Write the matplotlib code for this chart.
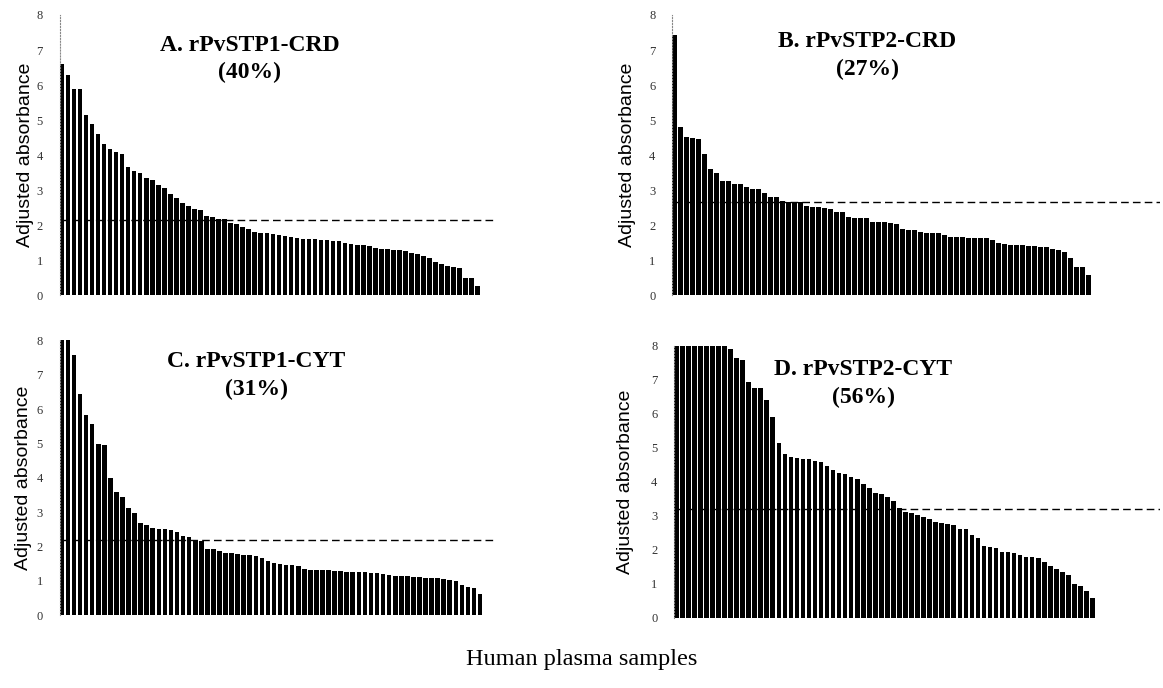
import matplotlib.pyplot as plt
import numpy as np

# adjusted absorbance per plasma sample, sorted high to low
stp1_crd = [6.6, 6.28, 5.9, 5.88, 5.14, 4.89, 4.59, 4.31, 4.17, 4.08,
            4.03, 3.67, 3.54, 3.48, 3.35, 3.29, 3.14, 3.07, 2.9, 2.76,
            2.62, 2.54, 2.45, 2.43, 2.26, 2.24, 2.18, 2.16, 2.07, 2.03,
            1.95, 1.88, 1.81, 1.78, 1.76, 1.74, 1.72, 1.69, 1.65, 1.62,
            1.61, 1.59, 1.59, 1.57, 1.57, 1.55, 1.55, 1.48, 1.46, 1.43,
            1.42, 1.4, 1.33, 1.32, 1.31, 1.3, 1.29, 1.27, 1.19, 1.16,
            1.11, 1.05, 0.95, 0.88, 0.83, 0.81, 0.78, 0.5, 0.5, 0.26]
stp2_crd = [7.43, 4.79, 4.52, 4.49, 4.45, 4.03, 3.59, 3.48, 3.26, 3.25,
            3.18, 3.16, 3.08, 3.04, 3.03, 2.92, 2.81, 2.79, 2.68, 2.67,
            2.66, 2.65, 2.53, 2.52, 2.52, 2.5, 2.47, 2.38, 2.37, 2.22,
            2.2, 2.2, 2.2, 2.1, 2.1, 2.08, 2.07, 2.04, 1.88, 1.87,
            1.87, 1.79, 1.78, 1.77, 1.77, 1.72, 1.66, 1.66, 1.65, 1.63,
            1.62, 1.62, 1.62, 1.58, 1.5, 1.47, 1.44, 1.43, 1.42, 1.39,
            1.39, 1.38, 1.37, 1.32, 1.3, 1.23, 1.07, 0.8, 0.8, 0.56]
stp1_cyt = [8.0, 8.0, 7.57, 6.43, 5.84, 5.56, 4.98, 4.96, 3.98, 3.59,
            3.45, 3.11, 2.98, 2.67, 2.62, 2.55, 2.52, 2.5, 2.48, 2.41,
            2.3, 2.28, 2.17, 2.16, 1.91, 1.91, 1.86, 1.82, 1.8, 1.77,
            1.75, 1.74, 1.73, 1.65, 1.58, 1.52, 1.48, 1.46, 1.46, 1.43,
            1.34, 1.31, 1.31, 1.31, 1.3, 1.29, 1.28, 1.26, 1.25, 1.24,
            1.24, 1.23, 1.21, 1.19, 1.17, 1.15, 1.14, 1.14, 1.12, 1.1,
            1.09, 1.07, 1.07, 1.06, 1.02, 0.98, 0.87, 0.83, 0.78, 0.61]
stp2_cyt = [8.0, 8.0, 8.0, 8.0, 8.0, 8.0, 8.0, 8.0, 8.0, 7.9,
            7.63, 7.59, 6.93, 6.77, 6.77, 6.41, 5.92, 5.13, 4.81, 4.72,
            4.69, 4.67, 4.66, 4.61, 4.59, 4.47, 4.35, 4.25, 4.22, 4.15,
            4.08, 3.95, 3.83, 3.66, 3.63, 3.56, 3.43, 3.22, 3.12, 3.07,
            3.02, 2.97, 2.9, 2.83, 2.8, 2.77, 2.74, 2.62, 2.6, 2.43,
            2.34, 2.12, 2.09, 2.04, 1.94, 1.92, 1.89, 1.86, 1.8, 1.78,
            1.75, 1.63, 1.52, 1.42, 1.35, 1.26, 0.98, 0.94, 0.79, 0.57]

titles = ["A. rPvSTP1-CRD", "B. rPvSTP2-CRD", "C. rPvSTP1-CYT", "D. rPvSTP2-CYT"]
percents = ["(40%)", "(27%)", "(31%)", "(56%)"]
cutoffs = [2.14, 2.67, 2.2, 3.2]

panels = [stp1_crd, stp2_crd, stp1_cyt, stp2_cyt]
# axes boxes [left, bottom, width, height] in figure fraction
boxes = [[0.0512, 0.5712, 0.3762, 0.407],
         [0.5778, 0.5712, 0.4196, 0.407],
         [0.0512, 0.1061, 0.3762, 0.399],
         [0.5795, 0.1022, 0.418, 0.395]]
xmax = [72.2, 80.9, 71.8, 80.2]
title_x = [0.435, 0.40, 0.45, 0.39]
title_y = [(0.892, 0.796), (0.907, 0.807), (0.925, 0.82), (0.915, 0.812)]
ylab_x = [26, 627, 24, 626]

fig = plt.figure(figsize=(11.63, 6.88), dpi=100)

for i in range(4):
    vals = panels[i]
    ax = fig.add_axes(boxes[i])
    ax.bar(np.arange(len(vals)), vals, width=0.76, color="black")
    ax.axhline(cutoffs[i], color="black", lw=1, dashes=(5.5, 3))
    ax.set_xlim(-0.38, xmax[i])
    ax.set_ylim(0, 8)
    ax.set_yticks(range(9))
    ax.set_xticks([])
    ax.tick_params(axis="y", length=0, pad=12, labelsize=9, labelcolor="#333333")
    for lab in ax.get_yticklabels():
        lab.set_fontfamily("Liberation Serif")
    for s in ["top", "right", "bottom"]:
        ax.spines[s].set_visible(False)
    ax.spines["left"].set_linestyle(":")
    ax.spines["left"].set_color("#888888")
    ax.spines["left"].set_linewidth(0.8)

    ax.text(title_x[i], title_y[i][0], titles[i], transform=ax.transAxes,
            ha="center", va="center", fontsize=17, fontweight="bold",
            family="Liberation Serif")
    ax.text(title_x[i], title_y[i][1], percents[i], transform=ax.transAxes,
            ha="center", va="center", fontsize=17, fontweight="bold",
            family="Liberation Serif")

    b = boxes[i]
    fig.text(ylab_x[i] / 1163, b[1] + b[3] / 2, "Adjusted absorbance", rotation=90,
             ha="center", va="center", fontsize=14, family="Liberation Sans")

fig.text(0.5, 0.041, "Human plasma samples", ha="center", va="center",
         fontsize=17.5, family="Liberation Serif")

plt.savefig("out.png", dpi=100)
